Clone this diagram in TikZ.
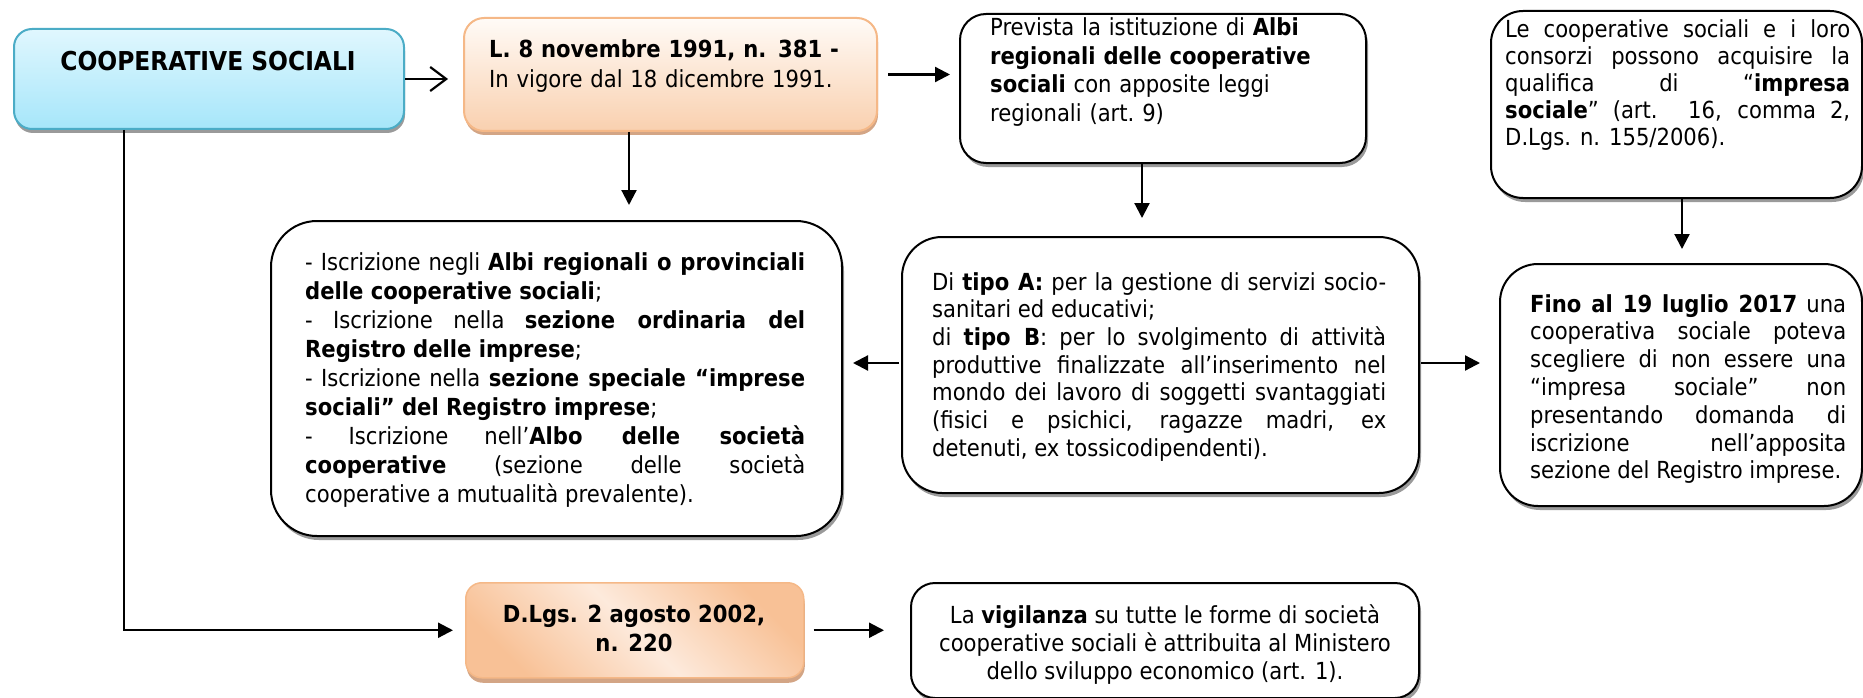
\documentclass[tikz,border=0pt]{standalone}
\usepackage{fontspec}
\setmainfont{DejaVu Sans Condensed}
\usetikzlibrary{arrows.meta,shadows,calc}
\definecolor{cyanTop}{HTML}{E0F7FE}
\definecolor{cyanBot}{HTML}{A6E6FA}
\definecolor{cyanLine}{HTML}{4BACC6}
\definecolor{peachTop}{HTML}{FFFBF7}
\definecolor{peachBot}{HTML}{F9D0AF}
\definecolor{peachLine}{HTML}{F5B887}
\definecolor{peachDark}{HTML}{F8C196}
\definecolor{peachLight}{HTML}{FDEADC}
\definecolor{peachShadow}{HTML}{D3A585}
\definecolor{greyShadow}{HTML}{9A9A9A}
\newcommand{\jparams}{\tolerance=10000\hyphenpenalty=10000\exhyphenpenalty=10000\emergencystretch=0pt}
\tikzset{
  plainbox/.style={draw=black, line width=2pt, fill=white, rounded corners=#1,
    inner sep=0pt, anchor=north west,
    drop shadow={shadow xshift=2pt, shadow yshift=-4pt, fill=greyShadow, opacity=1}},
  cyanbox/.style={draw=cyanLine, line width=2pt, top color=cyanTop, bottom color=cyanBot,
    rounded corners=#1, inner sep=0pt, anchor=north west,
    drop shadow={shadow xshift=1pt, shadow yshift=-4pt, fill=greyShadow, opacity=1}},
  peachbox/.style={draw=peachLine, line width=2pt, top color=peachTop, bottom color=peachBot,
    rounded corners=#1, inner sep=0pt, anchor=north west,
    drop shadow={shadow xshift=1pt, shadow yshift=-4pt, fill=peachShadow, opacity=1}},
  peachdiag/.style={draw=peachLine, line width=1.5pt, left color=peachDark, right color=peachDark,
    middle color=peachLight, shading angle=135,
    rounded corners=#1, inner sep=0pt, anchor=north west,
    drop shadow={shadow xshift=1pt, shadow yshift=-5pt, fill=peachShadow, opacity=1}},
  txt/.style={inner sep=0pt, anchor=base west,
    font=\fontsize{23.5}{#1}\selectfont\jparams},
  jtxt/.style={txt=#1, align=justify},
  ltxt/.style={txt=#1, align=left},
  arr/.style={line width=2.2pt, -{Triangle[length=15pt,width=15pt]}},
  openarr/.style={line width=2.2pt, -{Straight Barb[length=16pt,width=24pt,line width=2.2pt]}},
  link/.style={line width=2.2pt}
}
\begin{document}
\begin{tikzpicture}[x=1pt,y=-1pt]
\useasboundingbox (0,0) rectangle (1863,698);

% boxes
\node[cyanbox=18pt, minimum width=390pt, minimum height=100pt] (b1) at (13,28) {};
\node[peachbox=20pt, minimum width=413pt, minimum height=113pt] (b2) at (463,17) {};
\node[plainbox=26pt, minimum width=406pt, minimum height=149pt] (b3) at (959,13) {};
\node[plainbox=32pt, minimum width=371pt, minimum height=187pt] (b4) at (1490,10) {};
\node[plainbox=46pt, minimum width=571pt, minimum height=315pt] (b5) at (270,220) {};
\node[plainbox=40pt, minimum width=517pt, minimum height=256pt] (b6) at (901,236) {};
\node[plainbox=38pt, minimum width=362pt, minimum height=242pt] (b7) at (1499,263) {};
\node[peachdiag=16pt, minimum width=338pt, minimum height=95pt] (b8) at (465,582) {};
\node[plainbox=24pt, minimum width=508pt, minimum height=115pt] (b9) at (910,582) {};

% texts
\node[inner sep=0pt, font=\fontsize{26}{30}\selectfont\bfseries] (t1) at (208,61) {COOPERATIVE SOCIALI};

\node[ltxt=30, text width=390pt] (t2) at (489,58)
  {{\bfseries L. 8 novembre 1991, n. 381 -}\\In vigore dal 18 dicembre 1991.};

\node[ltxt=28.5, text width=360pt] (t3) at (990,36)
  {Prevista la istituzione di \textbf{Albi}\\\textbf{regionali delle cooperative}\\\textbf{sociali} con apposite leggi\\regionali (art.~9)};

\node[jtxt=26.8, text width=345pt] (t4) at (1505,38)
  {Le cooperative sociali e i loro\linebreak
   consorzi possono acquisire la\linebreak
   qualifica di “\textbf{impresa}\linebreak
   \textbf{sociale}” (art. 16, comma 2,\linebreak
   D.Lgs. n. 155/2006).};

\node[jtxt=29, text width=500pt] (t5) at (305,270)
  {- Iscrizione negli \textbf{Albi regionali o provinciali}\linebreak
   \textbf{delle cooperative sociali};\newline
   - Iscrizione nella \textbf{sezione ordinaria del}\linebreak
   \textbf{Registro delle imprese};\newline
   - Iscrizione nella \textbf{sezione speciale “imprese}\linebreak
   \textbf{sociali” del Registro imprese};\newline
   - Iscrizione nell’\textbf{Albo delle società}\linebreak
   \textbf{cooperative} (sezione delle società\linebreak
   cooperative a mutualità prevalente).};

\node[jtxt=27.7, text width=454pt] (t6) at (932,290)
  {Di \textbf{tipo A:} per la gestione di servizi socio-\linebreak
   sanitari ed educativi;\newline
   di \textbf{tipo B}: per lo svolgimento di attività\linebreak
   produttive finalizzate all'inserimento nel\linebreak
   mondo dei lavoro di soggetti svantaggiati\linebreak
   (fisici e psichici, ragazze madri, ex\linebreak
   detenuti, ex tossicodipendenti).};

\node[jtxt=27.8, text width=316pt] (t7) at (1530,312)
  {\textbf{Fino al 19 luglio 2017} una\linebreak
   cooperativa sociale poteva\linebreak
   scegliere di non essere una\linebreak
   “impresa sociale” non\linebreak
   presentando domanda di\linebreak
   iscrizione nell’apposita\linebreak
   sezione del Registro imprese.};

\node[inner sep=0pt, align=center, font=\fontsize{23.5}{29}\selectfont\bfseries] (t8) at (634,628)
  {D.Lgs. 2 agosto 2002,\\n. 220};

\node[inner sep=0pt, align=center, font=\fontsize{23.5}{28}\selectfont] (t9) at (1165,645)
  {La \textbf{vigilanza} su tutte le forme di società\\cooperative sociali è attribuita al Ministero\\dello sviluppo economico (art. 1).};

% helper coordinates for connector positions
\coordinate (c3) at (629,0);
\coordinate (c4) at (1142,0);
\coordinate (c5) at (1682,0);
\coordinate (c6) at (0,363);
\coordinate (c8) at (124,0);

% connectors
\draw[openarr, shorten >=15pt] (b1.east) -- (b1.east -| b2.west);
\draw[arr, shorten <=10pt, shorten >=9pt] (b2.east) -- (b2.east -| b3.west);
\draw[arr, shorten >=15pt] (b2.south -| c3) -- (b5.north -| c3);
\draw[arr, shorten >=18pt] (b3.south -| c4) -- (b6.north -| c4);
\draw[arr, shorten >=14pt] (b4.south -| c5) -- (b7.north -| c5);
\draw[arr, shorten <=2pt, shorten >=10pt] (b6.west |- c6) -- (b5.east |- c6);
\draw[arr, shorten <=1pt, shorten >=19pt] (b6.east |- c6) -- (b7.west |- c6);
\draw[arr, shorten >=12pt] (b1.south -| c8) |- (b8.west);
\draw[arr, shorten <=9pt, shorten >=26pt] (b8.east) -- (b8.east -| b9.west);
\end{tikzpicture}
\end{document}
